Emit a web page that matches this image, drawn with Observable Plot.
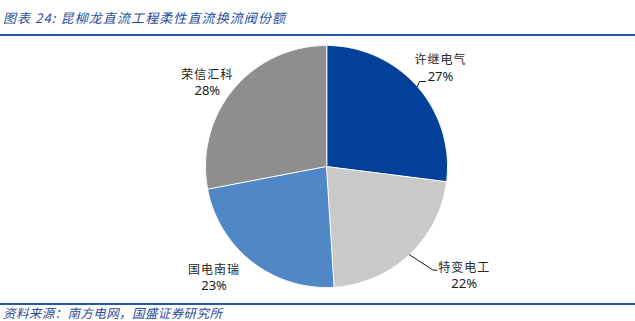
<!DOCTYPE html>
<html><head><meta charset="utf-8">
<script src="https://cdn.jsdelivr.net/npm/d3@7"></script>
<script src="https://cdn.jsdelivr.net/npm/@observablehq/plot@0.6"></script>
<style>
body{margin:0;background:#fff;}
#wrap{position:relative;width:635px;height:321px;overflow:hidden;font-family:"Noto Sans CJK SC","Noto Sans",sans-serif;}
#title{position:absolute;left:3px;top:9px;font-size:13px;font-style:italic;color:#2A4D9B;line-height:18px;white-space:nowrap;letter-spacing:1.1px;}
.rule{position:absolute;left:0;width:635px;height:2px;background:#2158B0;}
#src{position:absolute;left:3px;top:305px;font-size:12.5px;font-style:italic;color:#2A4D9B;line-height:16px;white-space:nowrap;letter-spacing:0.4px;}
#chart{position:absolute;left:0;top:36px;}
g[font-family="Noto Sans CJK SC"] text{letter-spacing:1px;}
</style></head>
<body><div id="wrap">
<div id="title"></div>
<div class="rule" style="top:34px"></div>
<div id="chart"></div>
<div class="rule" style="top:303px"></div>
<div id="src"></div>
</div>
<script>
// ---- data ----
const titleText = "图表 24: 昆柳龙直流工程柔性直流换流阀份额";
const sourceText = "资料来源：南方电网，国盛证券研究所";
const companies = ["许继电气", "特变电工", "国电南瑞", "荣信汇科"];
const shares = [27, 22, 23, 28];
const colors = ["#03409A", "#C9C9C9", "#5087C7", "#8E8E8E"];

// ---- layout ----
const R = 121, CX = 326, CY = 130, K = 1.3;
const labelNudge = [[-4, 6], [30, -5], [-16, -13], [2, 17]];
const leaderElbow = [[-21, 13], [-31, -6], null, null];
const leaderEnd = [[-15, 13], [-27, -6], null, null];

document.getElementById("title").textContent = titleText;
document.getElementById("src").textContent = sourceText;

const total = d3.sum(shares);
let acc = 0;
const slices = companies.map((name, i) => {
  const a0 = acc / total * 2 * Math.PI;
  acc += shares[i];
  const a1 = acc / total * 2 * Math.PI;
  const pts = [{x: 0, y: 0}];
  const n = Math.max(2, Math.ceil((a1 - a0) / (Math.PI / 360)));
  for (let j = 0; j <= n; j++) {
    const a = a0 + (a1 - a0) * j / n;
    pts.push({x: Math.sin(a), y: Math.cos(a)});
  }
  const mid = (a0 + a1) / 2;
  const lx = K * Math.sin(mid) + labelNudge[i][0] / R;
  const ly = K * Math.cos(mid) - labelNudge[i][1] / R;
  let leader = null;
  if (leaderElbow[i]) {
    leader = [
      {x: Math.sin(mid), y: Math.cos(mid)},
      {x: lx + leaderElbow[i][0] / R, y: ly - leaderElbow[i][1] / R},
      {x: lx + leaderEnd[i][0] / R, y: ly - leaderEnd[i][1] / R}
    ];
  }
  return {name, share: shares[i], color: colors[i], pts, lx, ly, leader};
});

const labels = slices.map(s => ({x: s.lx, y: s.ly, name: s.name, pct: s.share + "%"}));

const marks = [];
slices.forEach(s => {
  marks.push(Plot.line(s.pts, {x: "x", y: "y", fill: s.color, stroke: "white", strokeWidth: 1, curve: "linear-closed"}));
});
slices.forEach(s => {
  if (s.leader) marks.push(Plot.line(s.leader, {x: "x", y: "y", stroke: "#1a1a1a", strokeWidth: 1}));
});
marks.push(Plot.text(labels, {x: "x", y: "y", text: "name", dy: -8, fontSize: 12, fill: "#262626", fontFamily: "Noto Sans CJK SC"}));
marks.push(Plot.text(labels, {x: "x", y: "y", text: "pct", dy: 8, fontSize: 13, fill: "#1a1a1a", fontFamily: "Noto Sans, sans-serif"}));

const chart = Plot.plot({
  width: 635, height: 266, margin: 0,
  x: {domain: [-1, 1], range: [CX - R, CX + R], axis: null},
  y: {domain: [-1, 1], range: [CY + R, CY - R], axis: null},
  marks
});
document.getElementById("chart").appendChild(chart);
</script>
</body></html>
